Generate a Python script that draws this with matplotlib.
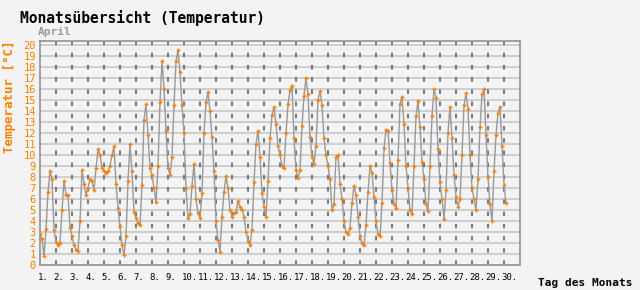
import numpy as np
import matplotlib.pyplot as plt
from matplotlib.transforms import ScaledTranslation

# Temperature readings, every 3 hours (0, 3, 6, ... 21 h), April
temps = [
    2.8, 2.4, 0.8, 3.3, 6.6, 8.5, 7.8, 3.2,        # 1.
    2.1, 1.8, 2.0, 5.0, 7.6, 6.4, 6.4, 3.4,        # 2.
    2.6, 1.8, 1.4, 1.3, 4.0, 8.6, 7.4, 6.4,        # 3.
    7.0, 7.8, 7.6, 6.8, 8.8, 10.5, 10.0, 8.8,      # 4.
    8.5, 8.4, 8.5, 9.0, 10.0, 10.8, 7.4, 5.2,      # 5.
    3.5, 1.8, 0.9, 2.6, 7.6, 11.0, 8.5, 4.8,       # 6.
    4.3, 3.8, 3.6, 7.3, 13.2, 14.6, 11.8, 8.8,     # 7.
    8.2, 7.0, 5.7, 9.0, 14.8, 18.5, 16.0, 12.2,    # 8.
    8.8, 8.2, 9.8, 14.5, 18.5, 19.5, 17.5, 14.5,   # 9.
    12.0, 7.0, 4.3, 4.6, 7.2, 9.2, 6.0, 4.7,       # 10.
    4.3, 6.5, 12.0, 14.8, 15.7, 14.0, 11.6, 8.5,   # 11.
    4.0, 2.3, 1.2, 4.4, 6.6, 8.1, 7.0, 5.0,        # 12.
    4.4, 4.7, 4.8, 5.8, 5.3, 5.0, 4.4, 3.0,        # 13.
    2.2, 1.8, 3.2, 7.5, 11.0, 12.2, 9.8, 6.5,      # 14.
    5.3, 4.4, 7.6, 11.5, 13.6, 14.4, 12.8, 10.8,   # 15.
    10.0, 9.0, 8.8, 12.0, 14.6, 15.9, 16.3, 11.5,  # 16.
    8.6, 7.9, 8.6, 12.6, 15.4, 17.0, 15.5, 11.6,   # 17.
    9.8, 9.2, 10.8, 15.0, 15.8, 14.5, 11.5, 10.0,  # 18.
    9.0, 7.8, 5.0, 5.5, 9.8, 10.0, 7.4, 6.0,       # 19.
    4.0, 3.0, 2.8, 3.4, 5.6, 7.2, 6.4, 4.4,        # 20.
    2.6, 2.0, 1.8, 3.6, 6.6, 9.0, 8.4, 6.2,        # 21.
    4.0, 2.8, 2.6, 5.6, 10.6, 12.3, 12.2, 9.3,     # 22.
    6.8, 5.5, 5.2, 9.5, 14.6, 15.3, 12.8, 9.0,     # 23.
    7.0, 5.0, 4.6, 9.0, 13.5, 14.9, 12.5, 9.4,     # 24.
    7.8, 5.5, 4.9, 9.0, 13.5, 16.0, 15.2, 10.5,    # 25.
    7.5, 6.0, 4.2, 6.8, 12.0, 14.4, 11.5, 8.2,     # 26.
    6.2, 5.3, 6.0, 10.0, 14.5, 15.6, 14.2, 10.0,   # 27.
    7.0, 6.0, 5.0, 7.8, 12.5, 15.5, 16.0, 11.8,    # 28.
    8.0, 5.5, 4.0, 8.5, 11.8, 13.8, 14.4, 10.8,    # 29.
    7.3, 5.6,                                      # 30.
]
hours = np.arange(len(temps)) * 3
days = [f"{d}." for d in range(1, 31)]
y_ticks = list(range(0, 21))

orange = '#ff8000'
bg = '#f3f3f3'
mono = 'DejaVu Sans Mono'

fig = plt.figure(figsize=(6.4, 2.9), dpi=100, facecolor=bg)
ax = fig.add_axes([40 / 640, 25 / 290, 480 / 640, 224 / 290], facecolor=bg)

x = hours / 24.0
ax.plot(x, temps, color='#999999', lw=1.0, zorder=3)
ax.plot(x, temps, ls='none', marker='+', ms=3.5, mew=1.0, color=orange, zorder=4)

ax.set_xlim(0, 30)
ax.set_ylim(0, 20.36)

# horizontal grid (solid) and day separators (dashed)
for v in y_ticks[1:]:
    ax.axhline(v, color='#c4c4c4', lw=1.1, zorder=1)
for d in range(1, 30):
    ax.axvline(d, color='#555555', lw=1.1, ls=(0, (3, 5)), zorder=2)

for s in ax.spines.values():
    s.set_color('#999999')
    s.set_linewidth(1.3)

ax.set_yticks(y_ticks)
ax.set_yticklabels([str(v) for v in y_ticks], color=orange, fontsize=7.5, family=mono)
ax.set_xticks(range(30))
ax.set_xticklabels(days, fontsize=6.5, family=mono, ha='left')
ax.tick_params(length=0, pad=3)
ax.tick_params(axis='x', pad=6)
off = ScaledTranslation(-2.5 / 100, 0, fig.dpi_scale_trans)
for lbl in ax.get_xticklabels():
    lbl.set_transform(lbl.get_transform() + off)

fig.text(20 / 640, 1 - 18 / 290, 'Monatsübersicht (Temperatur)', fontsize=10.5,
         family=mono, fontweight='bold', va='center', ha='left')
fig.text(38 / 640, 1 - 32 / 290, 'April', fontsize=8, family=mono,
         fontweight='bold', color='#999999', va='center', ha='left')
fig.text(10 / 640, 1 - 97 / 290, 'Temperatur [°C]', fontsize=9, family=mono,
         fontweight='bold', color=orange, rotation=90, va='center', ha='center')
fig.text(585 / 640, 1 - 283 / 290, 'Tag des Monats', fontsize=8, family=mono,
         fontweight='bold', va='center', ha='center')

plt.savefig('out.png', dpi=100, facecolor=bg)
